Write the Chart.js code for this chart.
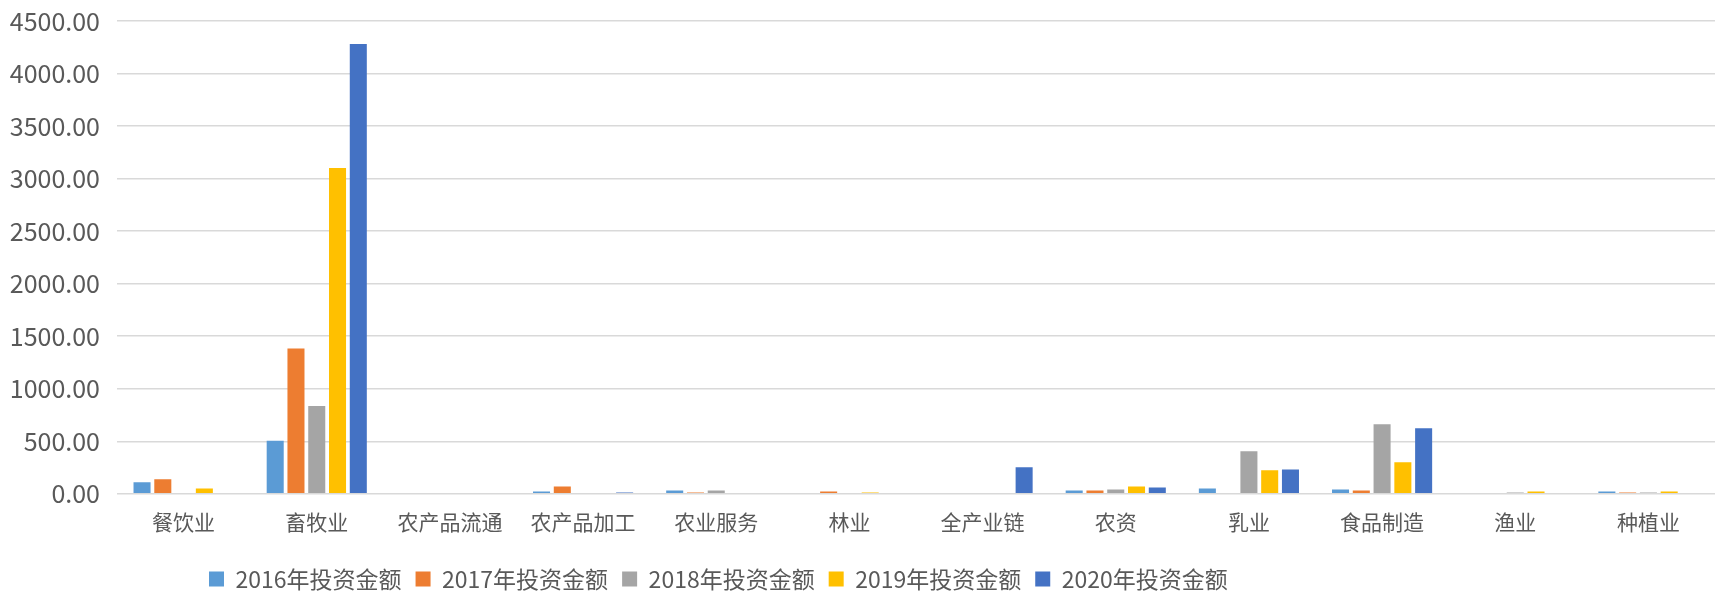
<!DOCTYPE html>
<html>
<head>
<meta charset="utf-8">
<script src="https://cdn.jsdelivr.net/npm/chart.js@4.4.1/dist/chart.umd.min.js"></script>
<style>
  html, body { margin: 0; padding: 0; background: #fff; }
  #wrap { position: relative; width: 1719px; height: 591px; }
</style>
</head>
<body>
<div id="wrap"><canvas id="chart"></canvas></div>
<script>
// categories and yearly investment amounts
const categories = ['餐饮业', '畜牧业', '农产品流通', '农产品加工', '农业服务', '林业', '全产业链', '农资', '乳业', '食品制造', '渔业', '种植业'];
const years = ['2016年投资金额', '2017年投资金额', '2018年投资金额', '2019年投资金额', '2020年投资金额'];

const invest2016 = [109, 505, 0, 22, 32, 0, 0, 32, 51, 42, 0, 22];
const invest2017 = [138, 1382, 0, 70, 12, 22, 0, 32, 0, 32, 0, 12];
const invest2018 = [0, 835, 0, 0, 32, 0, 0, 42, 405, 663, 12, 12];
const invest2019 = [51, 3100, 0, 0, 0, 12, 0, 70, 223, 300, 22, 22];
const invest2020 = [0, 4280, 0, 13, 0, 0, 252, 60, 232, 625, 0, 0];

const yMin = 0;
const yMax = 4500;
const yStep = 500;

const colors = ['#5B9BD5', '#ED7D31', '#A5A5A5', '#FFC000', '#4472C4'];
const textColor = '#595959';
const cjkFont = '"Noto Sans CJK SC", "Noto Sans", sans-serif';

const series = [invest2016, invest2017, invest2018, invest2019, invest2020];

// move the legend to where the original sits
const legendShift = {
    id: 'legendShift',
    afterLayout(chart) {
        const lg = chart.legend;
        const pad = lg.options.labels.padding;
        lg.left = 209 - pad;
        lg.top = 579 - pad - 11.5;
    }
};

new Chart(document.getElementById('chart'), {
    type: 'bar',
    data: {
        labels: categories,
        datasets: series.map((vals, i) => ({
            label: years[i],
            data: vals,
            backgroundColor: colors[i],
            categoryPercentage: 0.78,
            barPercentage: 0.82
        }))
    },
    options: {
        responsive: true,
        maintainAspectRatio: false,
        animation: false,
        layout: { padding: { top: 21, right: 4, left: 0, bottom: -7 } },
        scales: {
            x: {
                grid: { display: false, drawTicks: false },
                border: { display: false },
                ticks: {
                    color: textColor,
                    padding: 16,
                    maxRotation: 0,
                    font: { family: cjkFont, size: 21 }
                }
            },
            y: {
                min: yMin,
                max: yMax,
                afterFit(axis) {
                    axis.width = 117;
                    axis.paddingTop = 0;
                },
                grid: { color: '#d9d9d9', lineWidth: 1.5, drawTicks: false },
                border: { display: false },
                ticks: {
                    stepSize: yStep,
                    color: textColor,
                    padding: 17,
                    font: { family: cjkFont, size: 25 },
                    callback: v => Number(v).toFixed(2)
                }
            }
        },
        plugins: {
            legend: {
                position: 'bottom',
                align: 'start',
                labels: {
                    color: textColor,
                    boxWidth: 15,
                    boxHeight: 15,
                    padding: 14,
                    font: { family: cjkFont, size: 23 }
                }
            },
            tooltip: { enabled: false }
        }
    },
    plugins: [legendShift]
});
</script>
</body>
</html>
